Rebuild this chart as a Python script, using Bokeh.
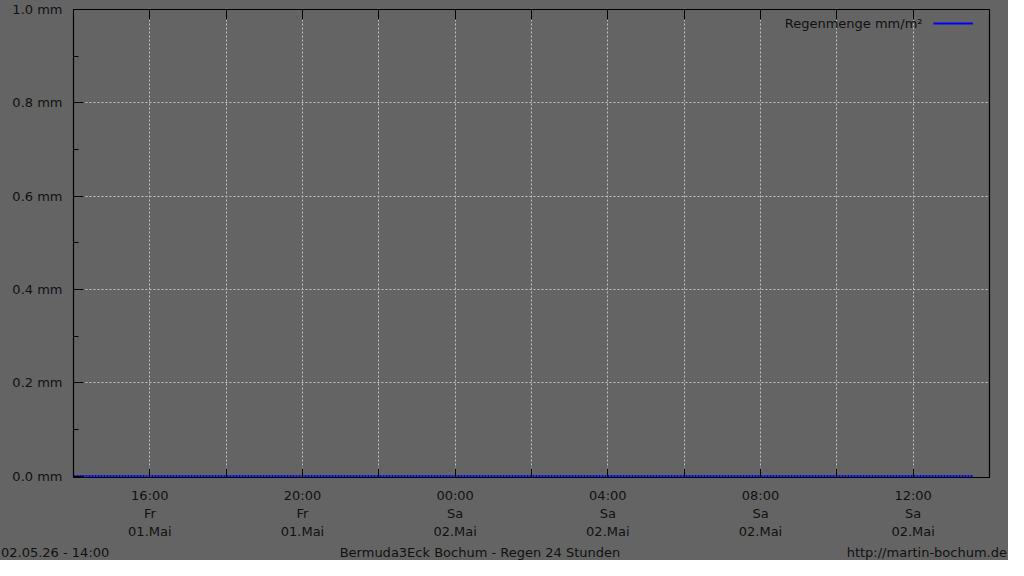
import pandas as pd
from bokeh.plotting import figure
from bokeh.layouts import column
from bokeh.models import (Range1d, FixedTicker, DatetimeAxis, Label, Legend, LegendItem, Div)
from bokeh.embed import file_html
from bokeh.resources import INLINE

# ---- data ----
times = ["2026-05-01 14:00", "2026-05-01 15:00", "2026-05-01 16:00", "2026-05-01 17:00",
         "2026-05-01 18:00", "2026-05-01 19:00", "2026-05-01 20:00", "2026-05-01 21:00",
         "2026-05-01 22:00", "2026-05-01 23:00", "2026-05-02 00:00", "2026-05-02 01:00",
         "2026-05-02 02:00", "2026-05-02 03:00", "2026-05-02 04:00", "2026-05-02 05:00",
         "2026-05-02 06:00", "2026-05-02 07:00", "2026-05-02 08:00", "2026-05-02 09:00",
         "2026-05-02 10:00", "2026-05-02 11:00", "2026-05-02 12:00", "2026-05-02 13:00",
         "2026-05-02 13:35"]
rain_mm = [0.0, 0.0, 0.0, 0.0, 0.0, 0.0, 0.0, 0.0, 0.0, 0.0, 0.0, 0.0, 0.0,
           0.0, 0.0, 0.0, 0.0, 0.0, 0.0, 0.0, 0.0, 0.0, 0.0, 0.0, 0.0]

x_start = "2026-05-01 14:00"
x_end = "2026-05-02 14:00"
tick_times = ["2026-05-01 14:00", "2026-05-01 16:00", "2026-05-01 18:00", "2026-05-01 20:00",
              "2026-05-01 22:00", "2026-05-02 00:00", "2026-05-02 02:00", "2026-05-02 04:00",
              "2026-05-02 06:00", "2026-05-02 08:00", "2026-05-02 10:00", "2026-05-02 12:00",
              "2026-05-02 14:00"]
tick_labels = ["", "16:00\nFr\n01.Mai", "", "20:00\nFr\n01.Mai", "", "00:00\nSa\n02.Mai", "",
               "04:00\nSa\n02.Mai", "", "08:00\nSa\n02.Mai", "", "12:00\nSa\n02.Mai", ""]
y_ticks = [0.0, 0.2, 0.4, 0.6, 0.8, 1.0]
y_minor = [0.1, 0.3, 0.5, 0.7, 0.9]
y_labels = ["0.0 mm", "0.2 mm", "0.4 mm", "0.6 mm", "0.8 mm", "1.0 mm"]
y_grid = [0.2, 0.4, 0.6, 0.8]

series_name = "Regenmenge mm/m²"
footer_left = "02.05.26 - 14:00"
footer_center = "Bermuda3Eck Bochum - Regen 24 Stunden"
footer_right = "http://martin-bochum.de"

# ---- styling ----
BG = "#646464"
FG = "#111111"
FONT = "DejaVu Sans"
FS = "13px"

def ms(s):
    return pd.Timestamp(s).value / 1e6

x = [pd.Timestamp(t) for t in times]
tick_ms = [ms(t) for t in tick_times]

p = figure(width=1008, height=546, output_backend="svg", toolbar_location=None,
           x_axis_type="datetime",
           x_range=Range1d(pd.Timestamp(x_start), pd.Timestamp(x_end)),
           y_range=Range1d(-0.003, 1.0),
           min_border_left=73, min_border_right=19, min_border_top=9, min_border_bottom=69)
p.background_fill_color = BG
p.border_fill_color = BG
p.outline_line_color = "black"
p.outline_line_width = 1.2

# grids
p.xgrid.ticker = FixedTicker(ticks=tick_ms)
p.ygrid.ticker = FixedTicker(ticks=y_grid)
for g in (p.xgrid, p.ygrid):
    g.grid_line_color = "#c0c0c0"
    g.grid_line_dash = "2 2"
    g.grid_line_width = 1

# bottom x axis
xa = p.xaxis[0]
xa.ticker = FixedTicker(ticks=tick_ms)
xa.major_label_overrides = {t: l for t, l in zip(tick_ms, tick_labels)}
xa.major_tick_in = 9
xa.major_tick_out = 0
xa.minor_tick_in = 0
xa.minor_tick_out = 0
xa.axis_line_color = "black"
xa.major_tick_line_color = "black"
xa.major_label_standoff = 10
xa.major_label_text_font = FONT
xa.major_label_text_font_size = FS
xa.major_label_text_color = FG
xa.major_label_text_line_height = 1.2

# top axis (ticks only)
ta = DatetimeAxis(ticker=FixedTicker(ticks=tick_ms), major_tick_in=10, major_tick_out=0,
                  minor_tick_in=0, minor_tick_out=0, axis_line_color="black",
                  major_tick_line_color="black", major_label_text_font_size="0px",
                  major_label_text_alpha=0)
ta.major_label_overrides = {t: "" for t in tick_ms}
p.add_layout(ta, "above")

# left y axis
ya = p.yaxis[0]
ya.ticker = FixedTicker(ticks=y_ticks, minor_ticks=y_minor)
ya.major_label_overrides = {t: l for t, l in zip(y_ticks, y_labels)}
ya.major_tick_in = 10
ya.major_tick_out = 0
ya.minor_tick_in = 5
ya.minor_tick_out = 0
ya.axis_line_color = "black"
ya.major_tick_line_color = "black"
ya.minor_tick_line_color = "black"
ya.major_label_standoff = 11
ya.major_label_text_font = FONT
ya.major_label_text_font_size = FS
ya.major_label_text_color = FG

# data line
p.line(x=x, y=rain_mm, line_color="#0000ff", line_width=2, line_dash="2 1")

# legend swatch (single-point line: draws nothing in the plot, only the legend key)
sw = p.line(x=x[:1], y=rain_mm[:1], line_color="#0000ff", line_width=2)
leg = Legend(items=[LegendItem(label=" ", renderers=[sw])], location=(860, 447),
             padding=0, margin=0, spacing=0, glyph_width=40, glyph_height=14,
             label_standoff=0, label_width=0, label_height=0, label_text_font_size="1px",
             border_line_color=None, background_fill_alpha=0)
p.add_layout(leg, "center")
p.add_layout(Label(x=849, y=454, x_units="screen", y_units="screen", text=series_name,
                   text_align="right", text_baseline="middle", text_font=FONT,
                   text_font_size=FS, text_color=FG))

# footer line
footer_html = (
    '<div style="position:relative;width:1008px;height:14px;line-height:14px;">'
    f'<span style="position:absolute;left:1px;top:0;">{footer_left}</span>'
    f'<span style="position:absolute;left:0;top:0;width:960px;text-align:center;">{footer_center}</span>'
    f'<span style="position:absolute;right:1px;top:0;">{footer_right}</span>'
    '</div>'
)
footer = Div(text=footer_html, width=1008, height=14, margin=0,
             styles={"background-color": BG, "color": FG, "font-family": FONT,
                     "font-size": FS, "overflow": "hidden"})

layout = column(p, footer, spacing=0)
layout.styles = {"background-color": BG}

open("out.html", "w").write(file_html(layout, INLINE))
